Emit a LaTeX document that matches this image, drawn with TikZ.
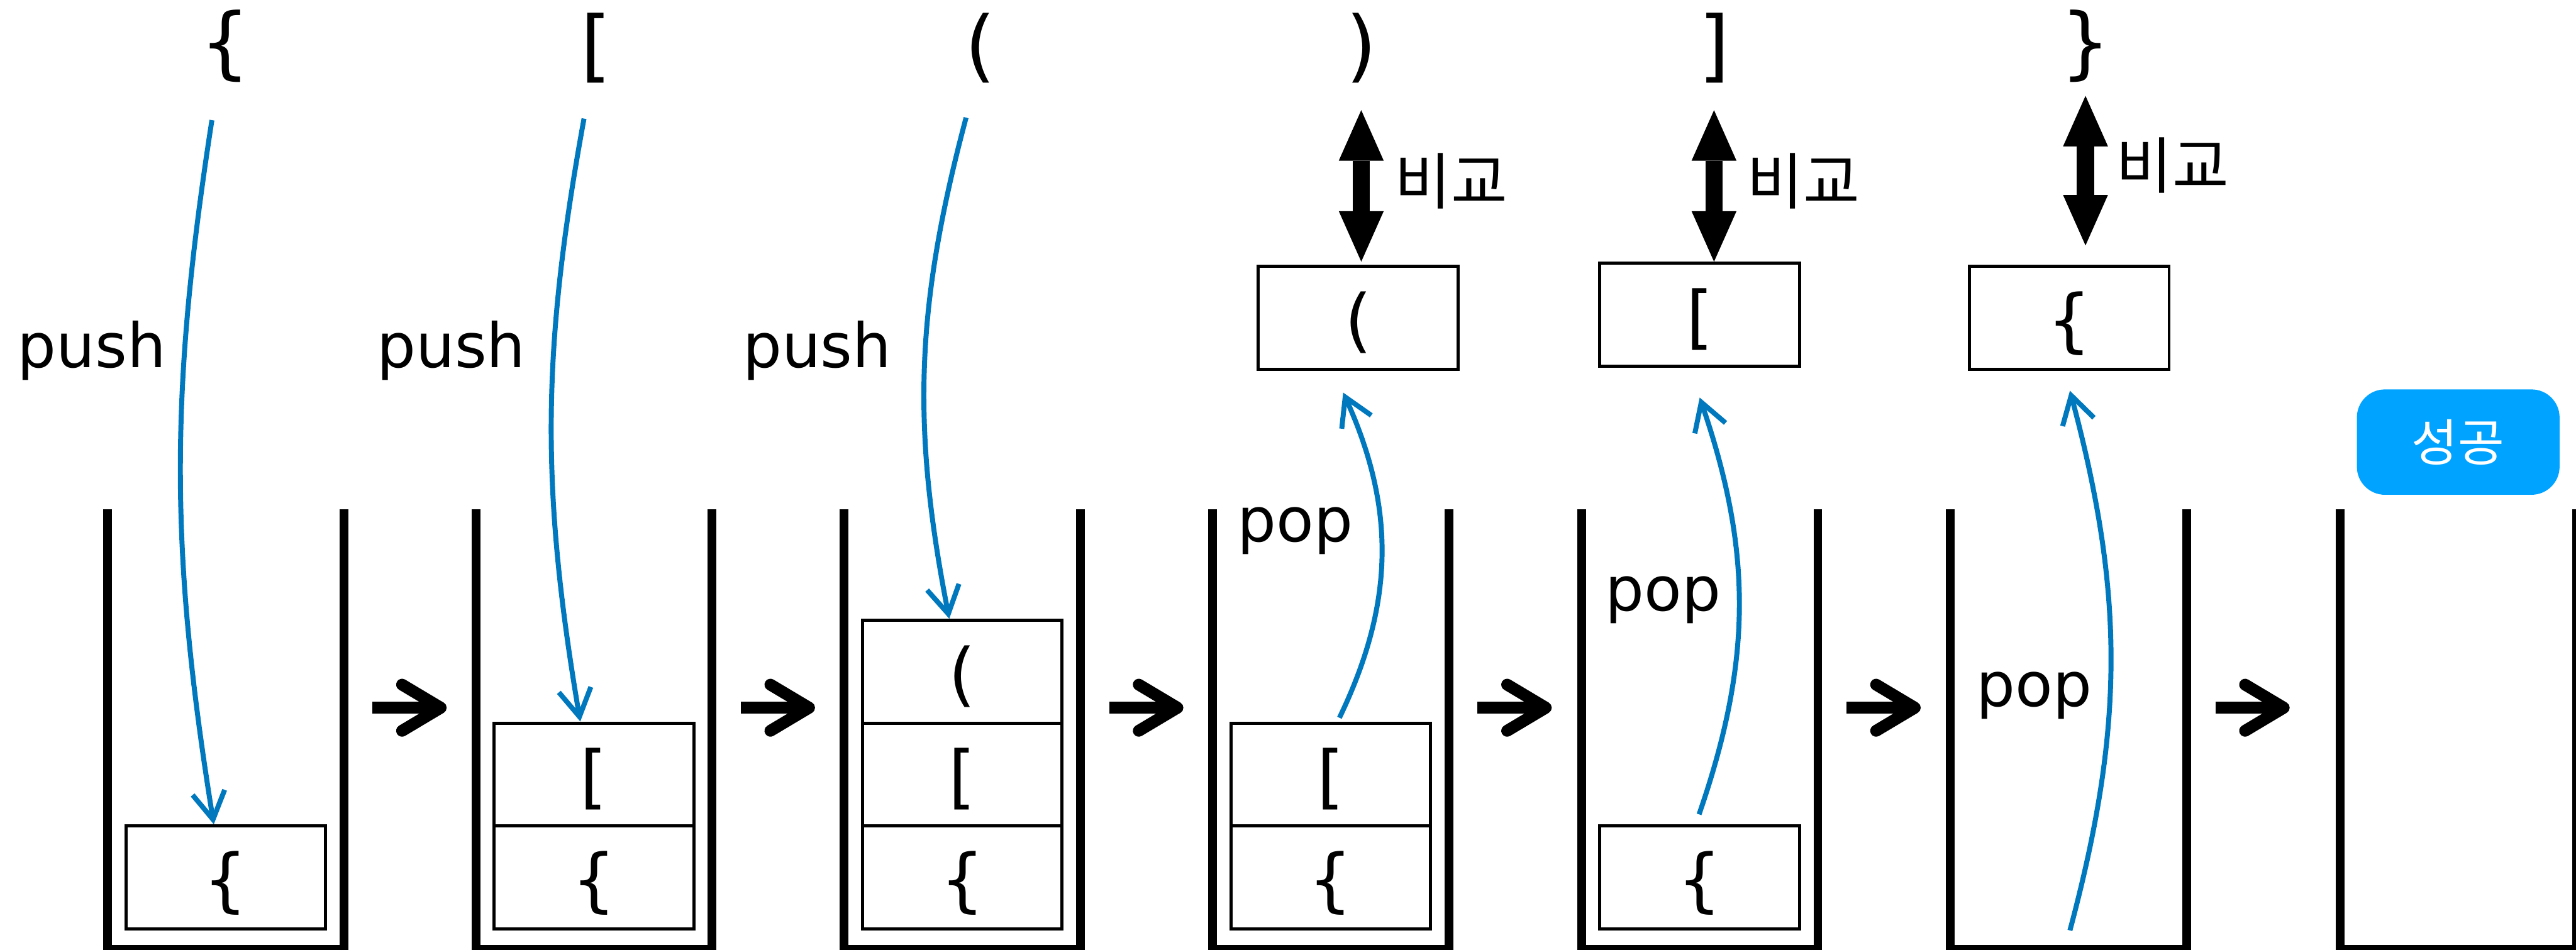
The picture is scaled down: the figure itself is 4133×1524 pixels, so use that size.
\documentclass[tikz,border=0pt]{standalone}
\usepackage{fontspec}
\setmainfont{DejaVu Sans}
\newfontfamily\kor{Noto Sans CJK KR}
\usetikzlibrary{arrows.meta,positioning}
\definecolor{pushblue}{RGB}{0,120,190}
\definecolor{okblue}{RGB}{0,163,255}
\tikzset{
 stack/.style={minimum width=3.79cm,minimum height=7.05cm,inner sep=0pt,outer sep=0pt},
 wall/.style={line width=0.14cm},
 cell/.style={draw,line width=0.05cm,minimum width=3.2cm,minimum height=1.65cm,inner sep=0pt,text depth=0pt,font=\fontsize{31.6pt}{36pt}\selectfont},
 bracket/.style={inner sep=0pt,font=\fontsize{35.8pt}{40pt}\selectfont},
 oplabel/.style={inner sep=0pt,anchor=base west,font=\fontsize{28pt}{32pt}\selectfont},
 cmplabel/.style={inner sep=0pt,anchor=west,font=\kor\fontsize{28pt}{32pt}\selectfont},
 badge/.style={fill=okblue,rounded corners=0.45cm,minimum width=3.25cm,minimum height=1.69cm,text=white,font=\kor\fontsize{23pt}{26pt}\selectfont},
 stackflow/.style={pushblue,line width=0.08cm,-{Straight Barb[length=0.44cm,width=0.52cm]}},
 stepto/.style={line width=0.19cm,-{Straight Barb[length=0.62cm,width=0.74cm,round]}},
 cmparrow/.style={line width=0.28cm,{Triangle[length=0.81cm,width=0.72cm,line width=0pt]}-{Triangle[length=0.81cm,width=0.72cm,line width=0pt]}}
}
\begin{document}
\begin{tikzpicture}[x=0.01cm,y=-0.01cm]
 \useasboundingbox (0,0) rectangle (4133,1524);
 \clip (0,0) rectangle (4133,1524);
 \node[stack] (s1) at (362,1170.5) {};
 \node[stack] (s2) at (953,1170.5) {};
 \node[stack] (s3) at (1544,1170.5) {};
 \node[stack] (s4) at (2135,1170.5) {};
 \node[stack] (s5) at (2727,1170.5) {};
 \node[stack] (s6) at (3319,1170.5) {};
 \node[stack] (s7) at (3944,1170.5) {};
 \draw[wall] (s1.north west) |- (s1.south) -| (s1.north east);
 \draw[wall] (s2.north west) |- (s2.south) -| (s2.north east);
 \draw[wall] (s3.north west) |- (s3.south) -| (s3.north east);
 \draw[wall] (s4.north west) |- (s4.south) -| (s4.north east);
 \draw[wall] (s5.north west) |- (s5.south) -| (s5.north east);
 \draw[wall] (s6.north west) |- (s6.south) -| (s6.north east);
 \draw[wall] (s7.north west) |- (s7.south) -| (s7.north east);

 \node[cell] (b11) at (362,1408) {\{};
 \node[cell] (b21) at (953,1408) {\{};
 \node[cell] (b22) at (953,1243) {[};
 \node[cell] (b31) at (1544,1408) {\{};
 \node[cell] (b32) at (1544,1243) {[};
 \node[cell] (b33) at (1544,1078) {(};
 \node[cell] (b41) at (2135,1408) {\{};
 \node[cell] (b42) at (2135,1243) {[};
 \node[cell] (b51) at (2727,1408) {\{};
 \node[cell] (p4) at (2179,510) {(};
 \node[cell] (p5) at (2727,505) {[};
 \node[cell] (p6) at (3320,510) {\{};

 \node[bracket] (t1) at (361,74) {\{};
 \node[bracket] (t2) at (956,77.5) {[};
 \node[bracket] (t3) at (1573,77) {(};
 \node[bracket] (t4) at (2184,77) {)};
 \node[bracket] (t5) at (2750,77.5) {]};
 \node[bracket] (t6) at (3346,74) {\}};

 \node[oplabel] (push1) at (27,590) {push};
 \node[oplabel] (push2) at (604,590) {push};
 \node[oplabel] (push3) at (1191,590) {push};
 \node[oplabel] (pop4) at (1985,869) {pop};
 \node[oplabel] (pop5) at (2575,980) {pop};
 \node[oplabel] (pop6) at (3170,1133.5) {pop};
 \node[cmplabel] (c4) at (2237,291) {비교};
 \node[cmplabel] (c5) at (2802,291) {비교};
 \node[cmplabel] (c6) at (3394,265.5) {비교};
 \node[badge] (ok) at (3944,709.5) {성공};

 \draw[cmparrow,shorten <=0.43cm,shorten >=0.05cm] (t4.south) -- (t4.south |- p4.north);
 \draw[cmparrow,shorten <=0.425cm] (t5.south) -- (t5.south |- p5.north);
 \draw[cmparrow,shorten <=0.21cm,shorten >=0.31cm] (t6.south) -- (t6.south |- p6.north);

 \draw[stepto] ([shift={(46,318)}]s1.north east) -- ++(119,0);
 \draw[stepto] ([shift={(46,318)}]s2.north east) -- ++(119,0);
 \draw[stepto] ([shift={(46,318)}]s3.north east) -- ++(119,0);
 \draw[stepto] ([shift={(46,318)}]s4.north east) -- ++(119,0);
 \draw[stepto] ([shift={(46,318)}]s5.north east) -- ++(119,0);
 \draw[stepto] ([shift={(46,318)}]s6.north east) -- ++(119,0);

 \draw[stackflow] ([shift={(-21,60)}]t1.south) to[bend right=9] ([shift={(-19,0)}]b11.north);
 \draw[stackflow] ([shift={(-19,56)}]t2.south) to[bend right=10] ([shift={(-22,0)}]b22.north);
 \draw[stackflow] ([shift={(-23,55)}]t3.south) to[bend right=13] ([shift={(-21,0)}]b33.north);
 \draw[stackflow] ([shift={(14,-6)}]b42.north) to[bend right=25] ([shift={(-24,35)}]p4.south);
 \draw[stackflow] ([shift={(-1,-16)}]b51.north) to[bend right=19] ([shift={(0,48)}]p5.south);
 \draw[stackflow] ([shift={(2,-30)}]s6.south) to[bend right=15] ([shift={(1,32)}]p6.south);
\end{tikzpicture}
\end{document}
